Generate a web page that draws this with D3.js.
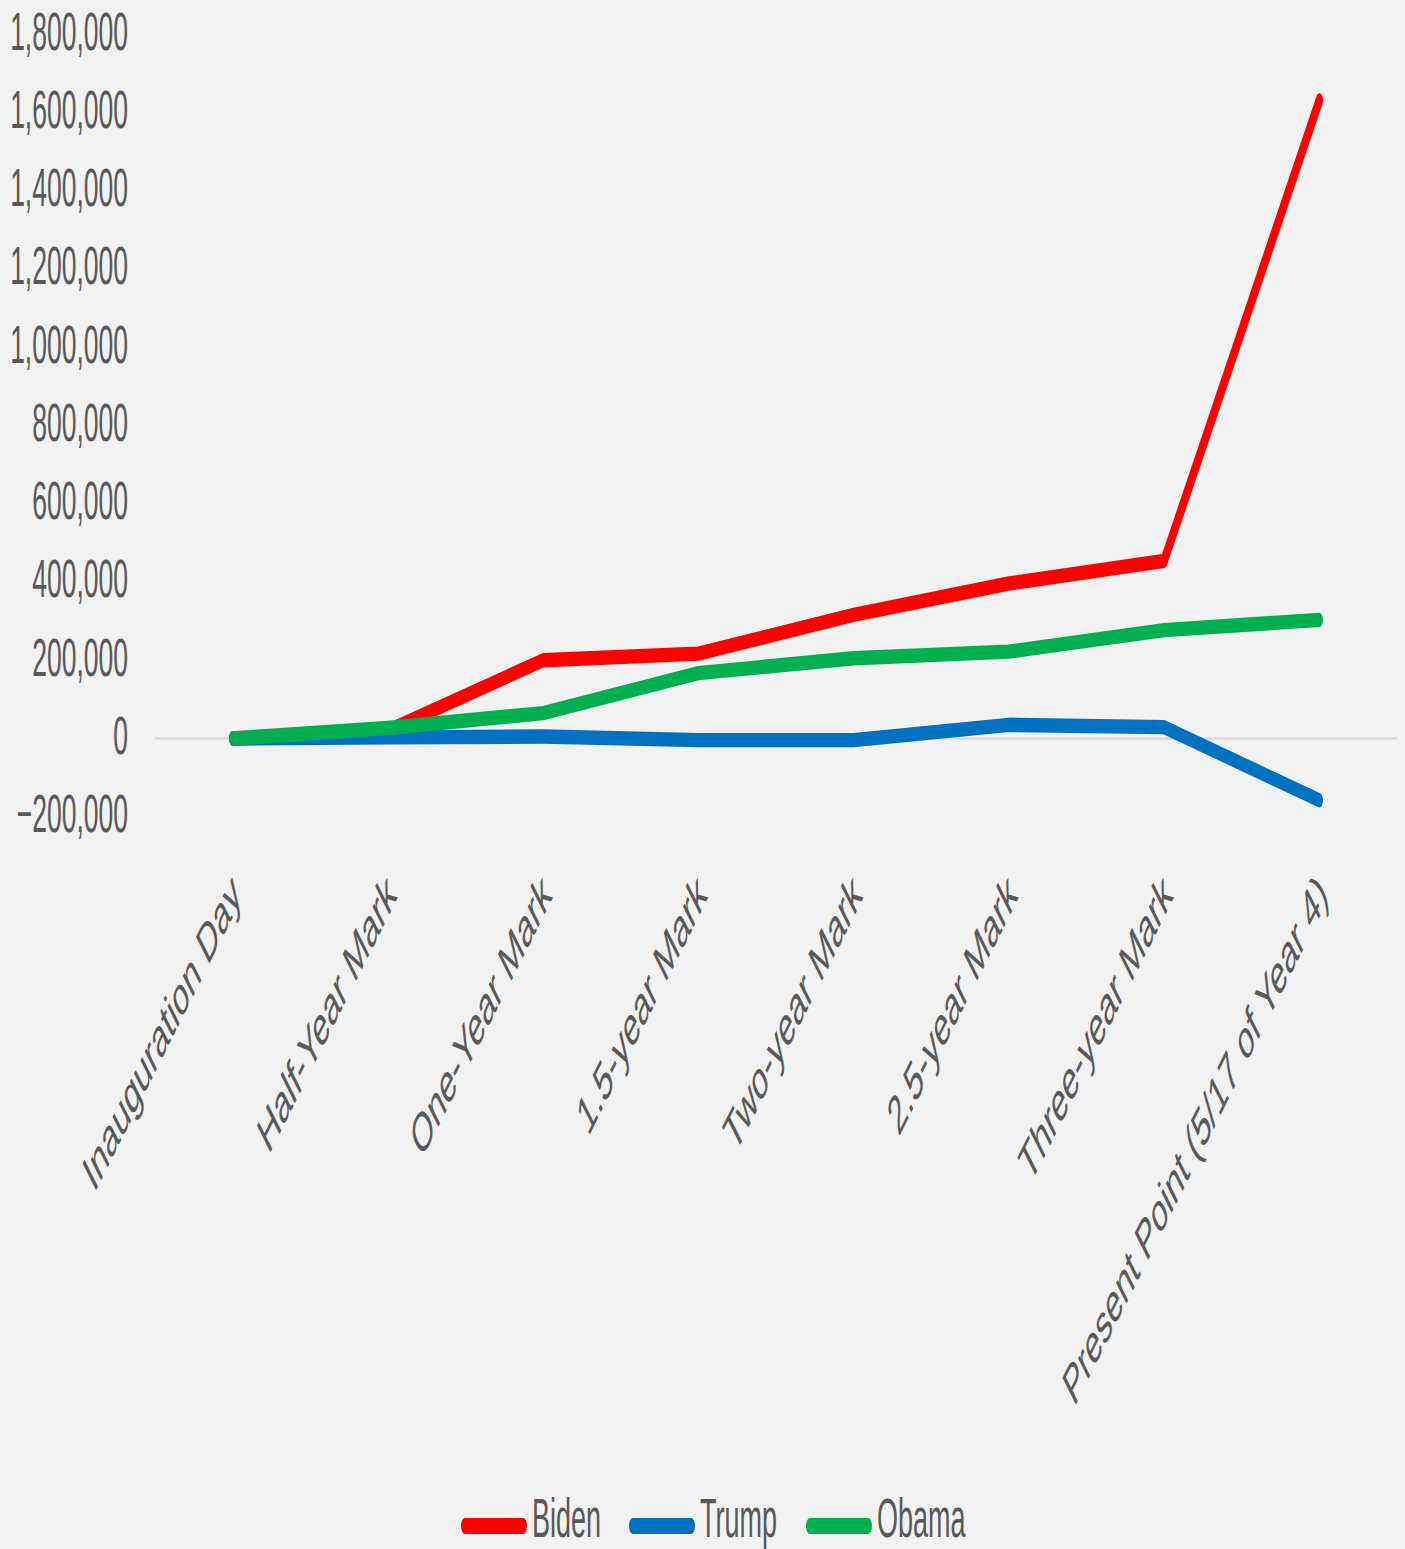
<!DOCTYPE html>
<html>
<head>
<meta charset="utf-8">
<script src="https://cdn.jsdelivr.net/npm/d3@7"></script>
<style>
  html, body { margin: 0; padding: 0; background: #f2f2f2; }
  svg { display: block; }
</style>
</head>
<body>
<svg id="chart" width="1405" height="1549"></svg>
<script>
const categories = ["Inauguration Day", "Half-Year Mark", "One-Year Mark", "1.5-year Mark",
  "Two-year Mark", "2.5-year Mark", "Three-year Mark", "Present Point (5/17 of Year 4)"];
const biden = [0, 20000, 200000, 217000, 316000, 396000, 454000, 1630000];
const trump = [0, 3000, 5000, -4000, -4000, 35000, 29000, -158000];
const obama = [0, 27000, 65000, 167000, 205000, 222000, 277000, 303000];
const yTicks = [-200000, 0, 200000, 400000, 600000, 800000, 1000000, 1200000, 1400000, 1600000, 1800000];
const seriesNames = ["Biden", "Trump", "Obama"];
const seriesColors = ["#ff0000", "#0070c0", "#00b050"];

const K = 2; // vertical stretch of the picture
const svg = d3.select("#chart");
svg.append("rect").attr("width", 1405).attr("height", 1549).attr("fill", "#f2f2f2");

const x = d3.scaleBand().domain(categories).range([155, 1397]);
const cx = d => x(d) + x.bandwidth() / 2;
const y = d3.scaleLinear().domain([-200000, 1800000]).range([816.8, 34]);

const textColor = "#595959";

// stretched group for lines
const g = svg.append("g").attr("transform", `scale(1,${K})`);

// zero gridline
g.append("line")
  .attr("x1", 155).attr("x2", 1397)
  .attr("y1", y(0) / K).attr("y2", y(0) / K)
  .attr("stroke", "#d9d9d9").attr("stroke-width", 1.3);

const data = [biden, trump, obama];
const line = d3.line().x((d, i) => cx(categories[i])).y(d => y(d) / K);

// draw order: Biden, Trump, Obama (Obama on top)
data.forEach((vals, si) => {
  g.append("path")
    .attr("d", line(vals))
    .attr("fill", "none")
    .attr("stroke", seriesColors[si])
    .attr("stroke-width", 7.2)
    .attr("stroke-linecap", "round")
    .attr("stroke-linejoin", "round");
});

// Y axis labels
const fmt = d3.format(",");
yTicks.forEach(t => {
  svg.append("text")
    .attr("transform", `translate(128,${y(t) + 15.5}) scale(1,${K})`)
    .attr("text-anchor", "end")
    .attr("font-family", "Liberation Sans, Arial, sans-serif")
    .attr("font-size", 26.5)
    .attr("fill", textColor)
    .text(fmt(t));
});

// X axis labels
categories.forEach(c => {
  svg.append("text")
    .attr("transform", `translate(${cx(c) + 3},884) scale(1,${K}) rotate(-45)`)
    .attr("text-anchor", "end")
    .attr("dy", "0.35em")
    .attr("font-family", "Liberation Sans, Arial, sans-serif")
    .attr("font-size", 27.5)
    .attr("fill", textColor)
    .text(c);
});

// Legend
const legendX = [461, 629, 806];
const legendY = 1526;
seriesNames.forEach((n, i) => {
  const lg = svg.append("g").attr("transform", `translate(${legendX[i]},${legendY}) scale(1,${K})`);
  lg.append("line")
    .attr("x1", 4).attr("x2", 62)
    .attr("y1", 0).attr("y2", 0)
    .attr("stroke", seriesColors[i]).attr("stroke-width", 8)
    .attr("stroke-linecap", "round");
  svg.append("text")
    .attr("transform", `translate(${legendX[i] + 71},1537) scale(1,2.05)`)
    .attr("font-family", "Liberation Sans, Arial, sans-serif")
    .attr("font-size", 27)
    .attr("fill", textColor)
    .text(n);
});
</script>
</body>
</html>
